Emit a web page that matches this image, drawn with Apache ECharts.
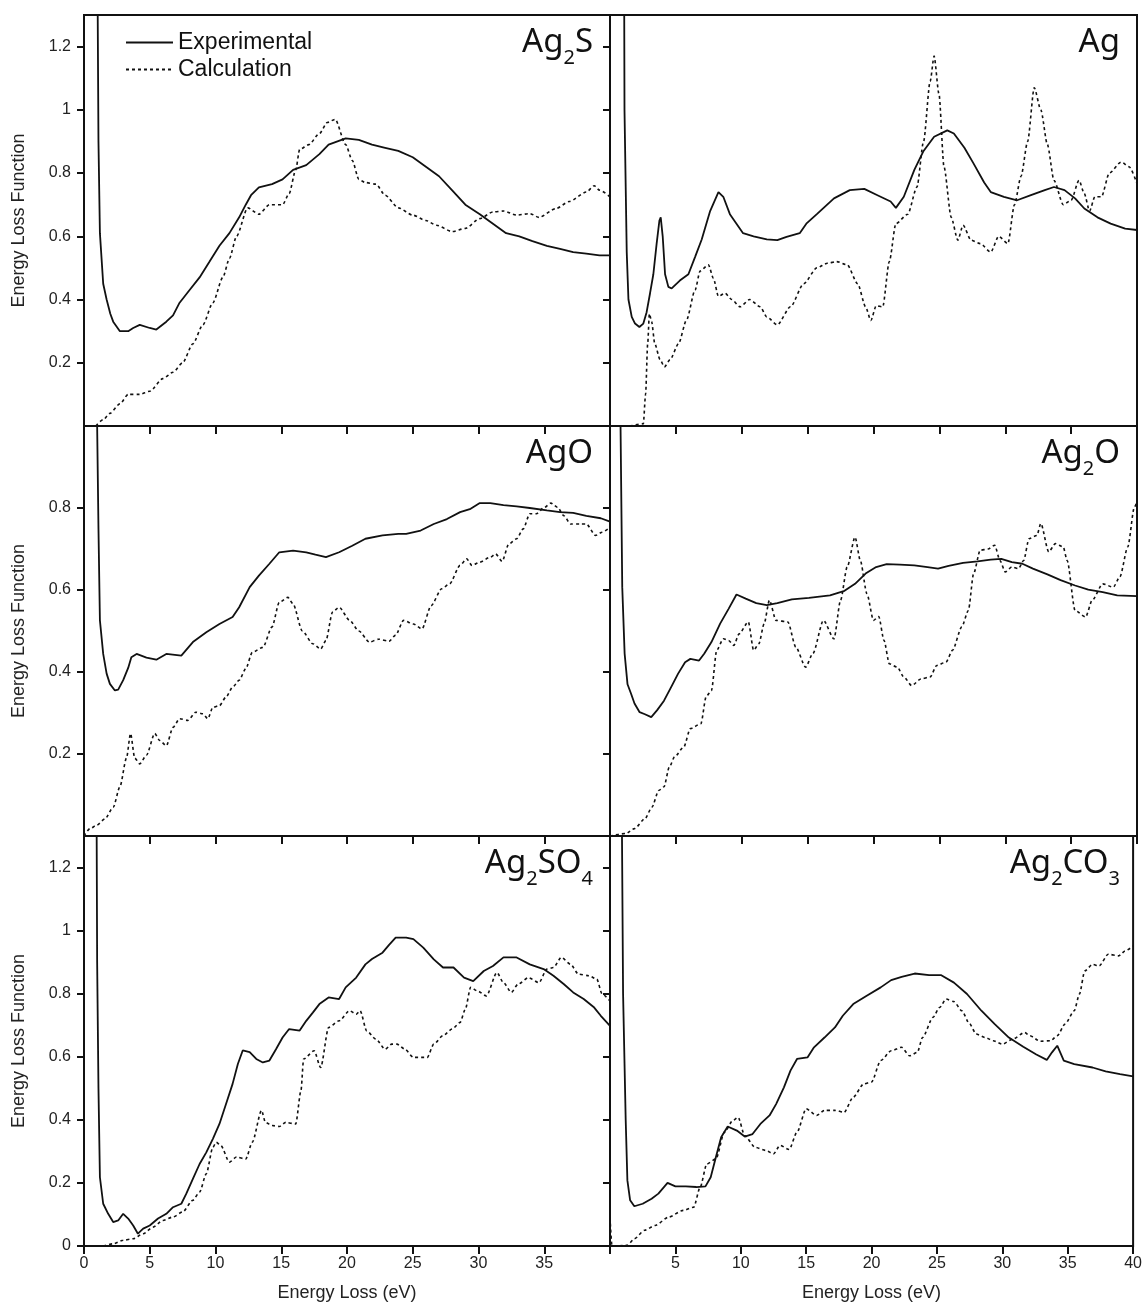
<!DOCTYPE html>
<html>
<head>
<meta charset="utf-8">
<title>Energy Loss Function</title>
<script src="https://cdn.jsdelivr.net/npm/echarts@6/dist/echarts.min.js"></script>
<style>
  html, body { margin: 0; padding: 0; background: #fff; }
  #chart { width: 1145px; height: 1307px; }
</style>
</head>
<body>
<div id="chart"></div>
<script>
// 数据：[能量损失 eV, 能量损失函数]
const ag2sExp = [[0.9, 2.5], [1.0, 1.6], [1.1, 0.9], [1.21, 0.61], [1.46, 0.45], [1.72, 0.40], [2.0, 0.355], [2.22, 0.33], [2.73, 0.30], [3.36, 0.30], [3.74, 0.31], [4.24, 0.32], [5.0, 0.31], [5.5, 0.305], [6.26, 0.33], [6.77, 0.35], [7.27, 0.39], [8.03, 0.43], [8.79, 0.47], [9.55, 0.52], [10.3, 0.57], [11.06, 0.61], [11.8, 0.66], [12.3, 0.70], [12.7, 0.73], [13.3, 0.755], [14.3, 0.765], [15.1, 0.78], [15.9, 0.81], [16.9, 0.825], [17.9, 0.86], [18.6, 0.89], [19.9, 0.91], [20.9, 0.905], [21.9, 0.89], [22.9, 0.88], [23.9, 0.87], [25, 0.85], [26, 0.82], [27, 0.79], [28, 0.745], [29, 0.70], [30.1, 0.67], [31.1, 0.64], [32.1, 0.61], [33.1, 0.60], [34.1, 0.585], [35.2, 0.57], [36.2, 0.56], [37.2, 0.55], [38.2, 0.545], [39.2, 0.54], [40, 0.54]];
const ag2sCalc = [[0.9, 0], [1.46, 0.02], [1.97, 0.04], [2.73, 0.07], [3.36, 0.10], [4.24, 0.10], [5.0, 0.11], [6.0, 0.15], [6.77, 0.17], [7.5, 0.20], [8.28, 0.26], [9.04, 0.32], [9.8, 0.39], [10.56, 0.47], [11.06, 0.53], [11.6, 0.60], [12.45, 0.69], [13.3, 0.67], [14.1, 0.70], [15.1, 0.70], [15.6, 0.735], [16.1, 0.81], [16.4, 0.875], [17.1, 0.89], [17.9, 0.925], [18.5, 0.96], [19.1, 0.97], [19.9, 0.89], [20.4, 0.84], [20.9, 0.78], [21.4, 0.77], [22.2, 0.765], [22.9, 0.73], [23.9, 0.69], [25, 0.667], [26, 0.65], [26.8, 0.635], [28, 0.615], [29, 0.625], [30.1, 0.656], [31.1, 0.677], [31.9, 0.68], [32.9, 0.667], [33.9, 0.672], [34.6, 0.66], [35.9, 0.688], [36.9, 0.71], [38.2, 0.74], [38.8, 0.76], [39.2, 0.746], [40, 0.725]];

const agExp = [[1.0, 2.5], [1.1, 1.0], [1.27, 0.55], [1.4, 0.40], [1.65, 0.345], [1.9, 0.324], [2.23, 0.313], [2.53, 0.324], [2.78, 0.36], [3.04, 0.42], [3.29, 0.48], [3.54, 0.577], [3.75, 0.65], [3.85, 0.66], [4.0, 0.60], [4.18, 0.48], [4.43, 0.44], [4.68, 0.435], [5.3, 0.46], [5.95, 0.48], [6.46, 0.535], [6.96, 0.59], [7.6, 0.68], [8.23, 0.74], [8.6, 0.725], [9.1, 0.67], [9.6, 0.64], [10.1, 0.61], [10.9, 0.60], [11.9, 0.59], [12.7, 0.588], [13.4, 0.598], [14.4, 0.61], [14.9, 0.64], [15.7, 0.67], [17.0, 0.72], [18.2, 0.746], [19.3, 0.75], [20.3, 0.73], [21.3, 0.71], [21.7, 0.69], [22.3, 0.725], [23.1, 0.81], [23.8, 0.87], [24.6, 0.915], [25.6, 0.935], [26.1, 0.925], [26.9, 0.88], [27.6, 0.83], [28.4, 0.77], [28.9, 0.74], [29.9, 0.725], [30.9, 0.714], [31.95, 0.73], [33.0, 0.746], [33.7, 0.756], [34.5, 0.746], [35.3, 0.72], [36.0, 0.688], [37.0, 0.66], [38.0, 0.64], [39.1, 0.624], [40, 0.62]];
const agCalc = [[1.5, 0], [2.53, 0.007], [2.7, 0.10], [2.86, 0.26], [2.99, 0.355], [3.16, 0.33], [3.4, 0.26], [3.8, 0.21], [4.13, 0.187], [4.56, 0.21], [5.2, 0.26], [5.8, 0.334], [6.46, 0.43], [6.84, 0.49], [7.47, 0.51], [7.85, 0.467], [8.23, 0.41], [8.73, 0.42], [9.24, 0.40], [9.87, 0.377], [10.6, 0.40], [11.4, 0.377], [11.9, 0.345], [12.7, 0.32], [13.7, 0.377], [14.7, 0.45], [15.7, 0.50], [16.5, 0.515], [17.2, 0.52], [18.0, 0.51], [18.8, 0.45], [19.4, 0.377], [19.8, 0.334], [20.2, 0.38], [20.7, 0.377], [21.2, 0.52], [21.7, 0.64], [22.6, 0.67], [23.3, 0.756], [23.8, 0.90], [24.3, 1.09], [24.6, 1.17], [24.97, 1.05], [25.35, 0.82], [25.9, 0.66], [26.4, 0.588], [26.8, 0.635], [27.4, 0.588], [28.1, 0.577], [28.9, 0.55], [29.5, 0.60], [30.2, 0.577], [30.7, 0.70], [31.2, 0.79], [31.7, 0.90], [32.2, 1.07], [32.7, 1.0], [33.2, 0.89], [33.7, 0.777], [34.4, 0.70], [35.0, 0.714], [35.6, 0.777], [36.0, 0.735], [36.4, 0.68], [36.8, 0.725], [37.3, 0.725], [37.9, 0.80], [38.8, 0.835], [39.4, 0.82], [40, 0.767]];

const agoExp = [[0.95, 1.5], [1.0, 1.0], [1.1, 0.75], [1.21, 0.526], [1.46, 0.444], [1.72, 0.396], [1.97, 0.371], [2.35, 0.355], [2.6, 0.357], [2.98, 0.38], [3.36, 0.41], [3.6, 0.436], [4.0, 0.444], [4.75, 0.435], [5.5, 0.43], [6.26, 0.444], [7.4, 0.44], [8.28, 0.473], [9.3, 0.497], [10.3, 0.517], [11.3, 0.534], [11.8, 0.558], [12.6, 0.607], [13.3, 0.635], [14.1, 0.664], [14.85, 0.692], [15.9, 0.696], [16.9, 0.692], [17.6, 0.686], [18.4, 0.68], [19.4, 0.692], [20.4, 0.708], [21.4, 0.725], [22.7, 0.733], [23.9, 0.737], [24.5, 0.737], [25.6, 0.745], [26.6, 0.761], [27.6, 0.773], [28.6, 0.79], [29.4, 0.798], [30.1, 0.812], [30.9, 0.812], [31.9, 0.807], [32.9, 0.804], [33.9, 0.80], [35.2, 0.794], [36.2, 0.79], [37.2, 0.788], [38.2, 0.781], [39.3, 0.775], [40, 0.767]];
const agoCalc = [[0, 0], [0.45, 0.018], [0.96, 0.026], [1.6, 0.042], [2.22, 0.07], [2.73, 0.12], [3.23, 0.19], [3.54, 0.25], [3.86, 0.19], [4.24, 0.176], [4.75, 0.197], [5.38, 0.25], [5.76, 0.233], [6.26, 0.22], [6.77, 0.265], [7.27, 0.286], [7.9, 0.282], [8.5, 0.302], [9.04, 0.298], [9.42, 0.286], [9.8, 0.314], [10.3, 0.318], [10.8, 0.339], [11.3, 0.363], [11.8, 0.38], [12.3, 0.408], [12.8, 0.448], [13.6, 0.46], [14.3, 0.51], [14.85, 0.57], [15.5, 0.582], [15.9, 0.566], [16.6, 0.50], [17.4, 0.469], [18.0, 0.456], [18.4, 0.477], [18.9, 0.546], [19.4, 0.558], [20.2, 0.526], [20.9, 0.50], [21.7, 0.473], [22.4, 0.48], [23.2, 0.475], [23.7, 0.49], [24.3, 0.526], [25.05, 0.517], [25.7, 0.505], [26.4, 0.562], [27.2, 0.603], [27.8, 0.615], [28.6, 0.66], [29.1, 0.676], [29.5, 0.66], [30.1, 0.668], [30.9, 0.68], [31.3, 0.688], [31.8, 0.67], [32.3, 0.712], [32.9, 0.725], [33.4, 0.749], [33.9, 0.786], [34.4, 0.786], [34.95, 0.80], [35.5, 0.812], [36.0, 0.802], [36.5, 0.781], [37.0, 0.761], [37.7, 0.761], [38.2, 0.761], [38.9, 0.733], [39.4, 0.741], [40, 0.753]];

const ag2oExp = [[0.75, 1.5], [0.8, 1.0], [0.93, 0.607], [1.11, 0.445], [1.33, 0.37], [1.6, 0.347], [1.86, 0.323], [2.25, 0.302], [2.65, 0.297], [3.13, 0.29], [3.58, 0.307], [4.1, 0.33], [4.64, 0.363], [5.17, 0.396], [5.7, 0.424], [6.1, 0.432], [6.76, 0.428], [7.16, 0.445], [7.7, 0.473], [8.36, 0.518], [9.0, 0.554], [9.6, 0.589], [10.3, 0.579], [11.1, 0.568], [11.9, 0.563], [12.7, 0.568], [13.8, 0.577], [15.1, 0.581], [16.7, 0.587], [17.8, 0.598], [18.6, 0.615], [19.4, 0.64], [20.2, 0.656], [21.0, 0.663], [22.0, 0.662], [23.1, 0.66], [24.1, 0.656], [24.9, 0.652], [25.7, 0.659], [26.8, 0.666], [27.9, 0.67], [28.9, 0.674], [29.7, 0.676], [30.5, 0.668], [31.3, 0.664], [32.1, 0.652], [33.2, 0.638], [34.2, 0.624], [35.3, 0.611], [36.3, 0.601], [37.4, 0.595], [38.5, 0.587], [40, 0.585]];
const ag2oCalc = [[0, 0], [1.2, 0.006], [1.86, 0.018], [2.65, 0.042], [3.18, 0.07], [3.7, 0.111], [4.1, 0.12], [4.5, 0.168], [4.9, 0.193], [5.6, 0.217], [6.1, 0.262], [6.9, 0.274], [7.3, 0.34], [7.7, 0.355], [8.1, 0.453], [8.6, 0.481], [9.0, 0.477], [9.4, 0.465], [9.8, 0.493], [10.5, 0.522], [10.9, 0.453], [11.3, 0.469], [11.7, 0.518], [12.1, 0.575], [12.6, 0.526], [13.5, 0.522], [14.1, 0.461], [14.85, 0.412], [15.4, 0.445], [16.2, 0.526], [17.0, 0.481], [17.5, 0.575], [18.0, 0.656], [18.6, 0.729], [19.0, 0.672], [19.5, 0.591], [20.0, 0.526], [20.4, 0.535], [20.8, 0.477], [21.2, 0.42], [21.8, 0.412], [22.3, 0.388], [22.9, 0.367], [23.6, 0.383], [24.3, 0.388], [24.8, 0.416], [25.5, 0.424], [26.0, 0.453], [26.7, 0.51], [27.2, 0.55], [27.6, 0.64], [28.1, 0.697], [28.7, 0.70], [29.2, 0.709], [29.6, 0.672], [30.0, 0.644], [30.5, 0.656], [31.0, 0.652], [31.4, 0.672], [31.8, 0.725], [32.4, 0.733], [32.7, 0.762], [33.3, 0.693], [33.8, 0.713], [34.4, 0.705], [34.7, 0.672], [35.3, 0.55], [36.1, 0.534], [36.6, 0.575], [37.4, 0.615], [38.2, 0.607], [38.7, 0.632], [39.3, 0.705], [39.8, 0.802], [40, 0.815]];

const ag2so4Exp = [[0.9, 2.0], [1.0, 0.9], [1.1, 0.5], [1.21, 0.218], [1.46, 0.134], [1.84, 0.102], [2.22, 0.076], [2.6, 0.081], [2.98, 0.102], [3.36, 0.087], [3.74, 0.065], [4.1, 0.039], [4.5, 0.055], [5.0, 0.065], [5.63, 0.087], [6.26, 0.102], [6.77, 0.123], [7.4, 0.134], [7.78, 0.166], [8.28, 0.213], [8.79, 0.26], [9.3, 0.297], [9.8, 0.34], [10.3, 0.387], [10.8, 0.45], [11.3, 0.514], [11.7, 0.577], [12.07, 0.62], [12.6, 0.615], [13.1, 0.593], [13.6, 0.582], [14.1, 0.588], [14.6, 0.624], [15.1, 0.661], [15.6, 0.688], [16.4, 0.683], [16.9, 0.714], [17.4, 0.74], [17.9, 0.767], [18.6, 0.788], [19.4, 0.783], [19.9, 0.82], [20.7, 0.851], [21.4, 0.893], [21.9, 0.91], [22.7, 0.93], [23.2, 0.955], [23.7, 0.978], [24.5, 0.978], [25.05, 0.973], [25.8, 0.946], [26.6, 0.909], [27.3, 0.883], [28.1, 0.883], [28.9, 0.851], [29.6, 0.84], [30.4, 0.872], [31.1, 0.888], [31.9, 0.915], [32.9, 0.915], [33.9, 0.893], [34.95, 0.878], [35.7, 0.857], [36.5, 0.83], [37.2, 0.804], [38.0, 0.783], [38.8, 0.756], [39.3, 0.73], [40, 0.698]];
const ag2so4Calc = [[1.46, 0], [2.22, 0.007], [2.98, 0.018], [3.74, 0.023], [4.5, 0.039], [5.25, 0.06], [6.0, 0.081], [6.77, 0.092], [7.5, 0.108], [8.28, 0.145], [8.79, 0.171], [9.3, 0.229], [9.8, 0.313], [10.05, 0.329], [10.4, 0.319], [11.06, 0.266], [11.6, 0.282], [12.3, 0.276], [12.8, 0.329], [13.5, 0.43], [13.8, 0.392], [14.3, 0.382], [14.85, 0.379], [15.35, 0.392], [16.1, 0.387], [16.5, 0.493], [16.7, 0.593], [17.5, 0.619], [18.0, 0.566], [18.6, 0.693], [19.4, 0.714], [20.2, 0.746], [20.7, 0.735], [21.0, 0.746], [21.5, 0.682], [22.2, 0.656], [22.9, 0.624], [23.4, 0.64], [23.8, 0.64], [24.4, 0.624], [25.05, 0.598], [26.1, 0.598], [26.6, 0.64], [27.3, 0.667], [28.0, 0.688], [28.6, 0.709], [29.0, 0.751], [29.4, 0.82], [29.9, 0.809], [30.6, 0.793], [31.4, 0.867], [31.9, 0.835], [32.5, 0.804], [33.0, 0.83], [33.8, 0.851], [34.6, 0.835], [35.2, 0.878], [35.7, 0.883], [36.3, 0.915], [37.0, 0.893], [37.6, 0.862], [38.4, 0.857], [39.0, 0.846], [39.4, 0.799], [40, 0.777]];

const ag2co3Exp = [[0.8, 2.0], [1.0, 0.8], [1.2, 0.4], [1.33, 0.208], [1.54, 0.145], [1.86, 0.126], [2.5, 0.134], [3.18, 0.15], [3.7, 0.166], [4.4, 0.2], [5.0, 0.189], [5.8, 0.189], [6.6, 0.187], [7.3, 0.189], [7.7, 0.218], [8.1, 0.282], [8.5, 0.345], [9.0, 0.379], [9.7, 0.366], [10.3, 0.347], [10.9, 0.355], [11.5, 0.387], [12.2, 0.414], [12.7, 0.45], [13.3, 0.503], [13.8, 0.556], [14.3, 0.593], [15.1, 0.598], [15.6, 0.63], [16.4, 0.661], [17.2, 0.693], [17.8, 0.73], [18.6, 0.767], [19.6, 0.793], [20.7, 0.82], [21.5, 0.843], [22.3, 0.853], [23.3, 0.864], [24.4, 0.859], [25.3, 0.859], [26.3, 0.835], [27.3, 0.799], [28.4, 0.746], [29.4, 0.704], [30.5, 0.661], [31.6, 0.632], [32.6, 0.607], [33.4, 0.59], [33.8, 0.614], [34.2, 0.635], [34.7, 0.588], [35.5, 0.577], [36.9, 0.566], [37.9, 0.554], [39.0, 0.545], [40, 0.538]];
const ag2co3Calc = [[0, 0.09], [0.15, 0], [1.33, 0.002], [1.86, 0.023], [2.65, 0.05], [3.45, 0.065], [4.5, 0.092], [5.6, 0.113], [6.4, 0.123], [6.9, 0.187], [7.4, 0.26], [8.1, 0.276], [8.75, 0.361], [9.4, 0.398], [9.8, 0.408], [10.3, 0.35], [11.1, 0.313], [11.9, 0.303], [12.5, 0.292], [13.0, 0.319], [13.7, 0.306], [14.3, 0.361], [15.0, 0.435], [15.8, 0.414], [16.4, 0.43], [17.2, 0.43], [17.9, 0.424], [18.6, 0.472], [19.4, 0.514], [20.0, 0.52], [20.7, 0.588], [21.5, 0.619], [22.3, 0.63], [22.9, 0.603], [23.5, 0.614], [23.9, 0.661], [24.7, 0.725], [25.2, 0.756], [25.7, 0.783], [26.3, 0.775], [26.9, 0.746], [27.5, 0.704], [28.0, 0.672], [28.7, 0.661], [29.3, 0.651], [30.0, 0.64], [30.8, 0.656], [31.7, 0.677], [32.1, 0.667], [32.9, 0.649], [33.7, 0.651], [34.2, 0.667], [34.8, 0.704], [35.5, 0.746], [35.9, 0.799], [36.3, 0.872], [36.9, 0.893], [37.4, 0.888], [38.1, 0.925], [38.9, 0.92], [39.4, 0.936], [40, 0.951]];

// 刻度
const xLabelsLeft = [0, 5, 10, 15, 20, 25, 30, 35];
const xLabelsRight = [5, 10, 15, 20, 25, 30, 35, 40];
const xTicks = [0, 5, 10, 15, 20, 25, 30, 35, 40];
const yLabelsTop = [0.2, 0.4, 0.6, 0.8, 1, 1.2];
const yLabelsMid = [0.2, 0.4, 0.6, 0.8];
const yLabelsBottom = [0, 0.2, 0.4, 0.6, 0.8, 1, 1.2];

// 面板名称（富文本下标）
const panelLabels = [
  '{a|Ag}{s|2}{a|S}',
  '{a|Ag}',
  '{a|AgO}',
  '{a|Ag}{s|2}{a|O}',
  '{a|Ag}{s|2}{a|SO}{s|4}',
  '{a|Ag}{s|2}{a|CO}{s|3}'
];
const panelExp = [ag2sExp, agExp, agoExp, ag2oExp, ag2so4Exp, ag2co3Exp];
const panelCalc = [ag2sCalc, agCalc, agoCalc, ag2oCalc, ag2so4Calc, ag2co3Calc];

const ink = '#111';
const axisFont = 'Liberation Sans, Arial, sans-serif';

// 网格布局：两列三行
const gridPos = [
  { left: 84, top: 15, width: 526, height: 411 },
  { left: 610, top: 15, width: 527, height: 411 },
  { left: 84, top: 426, width: 526, height: 410 },
  { left: 610, top: 426, width: 527, height: 410 },
  { left: 84, top: 836, width: 526, height: 410 },
  { left: 610, top: 836, width: 527, height: 410 }
];
const yMax = [1.3, 1.3, 1.0, 1.0, 1.3, 1.3];
const yLabelSets = [yLabelsTop, yLabelsTop, yLabelsMid, yLabelsMid, yLabelsBottom, yLabelsBottom];

const grid = gridPos.map(g => Object.assign({
  show: true,
  borderColor: ink,
  borderWidth: 2,
  containLabel: false
}, g));

const xAxis = gridPos.map((g, i) => {
  const isBottom = i >= 4;
  const isLeft = i % 2 === 0;
  return {
    type: 'value',
    gridIndex: i,
    min: 0,
    max: 40,
    interval: 5,
    axisLine: { show: false },
    splitLine: { show: false },
    axisTick: {
      show: true,
      inside: false,
      length: 8,
      customValues: xTicks,
      lineStyle: { color: ink, width: 2 }
    },
    axisLabel: {
      show: isBottom,
      margin: 10,
      customValues: isLeft ? xLabelsLeft : xLabelsRight,
      color: '#222',
      fontFamily: axisFont,
      fontSize: 16
    },
    name: isBottom ? 'Energy Loss (eV)' : '',
    nameLocation: 'middle',
    nameGap: 38,
    nameTextStyle: { color: '#222', fontFamily: axisFont, fontSize: 18 }
  };
});

const yAxis = gridPos.map((g, i) => {
  const isLeft = i % 2 === 0;
  return {
    type: 'value',
    gridIndex: i,
    min: 0,
    max: yMax[i],
    interval: 0.2,
    axisLine: { show: false },
    splitLine: { show: false },
    axisTick: {
      show: true,
      inside: false,
      length: 7,
      customValues: yLabelSets[i],
      lineStyle: { color: ink, width: 2 }
    },
    axisLabel: {
      show: isLeft,
      margin: 13,
      customValues: yLabelSets[i],
      color: '#222',
      fontFamily: axisFont,
      fontSize: 16
    },
    name: isLeft ? 'Energy Loss Function' : '',
    nameLocation: 'middle',
    nameGap: 56,
    nameTextStyle: { color: '#222', fontFamily: axisFont, fontSize: 18 }
  };
});

const series = [];
for (let i = 0; i < 6; i++) {
  // 实验曲线：含零损失峰的陡降段，不做平滑
  series.push({
    name: 'Experimental',
    type: 'line',
    xAxisIndex: i,
    yAxisIndex: i,
    data: panelExp[i],
    symbol: 'none',
    smooth: false,
    clip: true,
    itemStyle: { color: ink },
    lineStyle: { color: ink, width: 1.8 }
  });
  series.push({
    name: 'Calculation',
    type: 'line',
    xAxisIndex: i,
    yAxisIndex: i,
    data: panelCalc[i],
    symbol: 'none',
    smooth: 0.25,
    smoothMonotone: 'x',
    clip: true,
    itemStyle: { color: ink },
    lineStyle: { color: ink, width: 1.6, type: [3, 3] }
  });
}

// 面板标题
const title = gridPos.map((g, i) => ({
  text: panelLabels[i],
  right: 1145 - (g.left + g.width) + 17,
  top: g.top + 11,
  padding: 0,
  textStyle: {
    fontWeight: 'normal',
    rich: {
      a: { fontFamily: 'Noto Sans', fontWeight: 'normal', fontSize: 33, lineHeight: 40, color: '#111', verticalAlign: 'top' },
      s: { fontFamily: 'Noto Sans', fontWeight: 'normal', fontSize: 20, color: '#111', verticalAlign: 'top', padding: [22, 0, 0, 0] }
    }
  }
}));

const chart = echarts.init(document.getElementById('chart'), null, { renderer: 'canvas' });
chart.setOption({
  animation: false,
  backgroundColor: '#fff',
  title: title,
  legend: {
    data: ['Experimental', 'Calculation'],
    orient: 'vertical',
    left: 125,
    top: 29,
    itemWidth: 47,
    itemHeight: 14,
    itemGap: 0,
    padding: 0,
    itemStyle: { opacity: 0 },
    textStyle: { color: '#111', fontFamily: axisFont, fontSize: 23, lineHeight: 27 }
  },
  grid: grid,
  xAxis: xAxis,
  yAxis: yAxis,
  series: series
});
</script>
</body>
</html>
